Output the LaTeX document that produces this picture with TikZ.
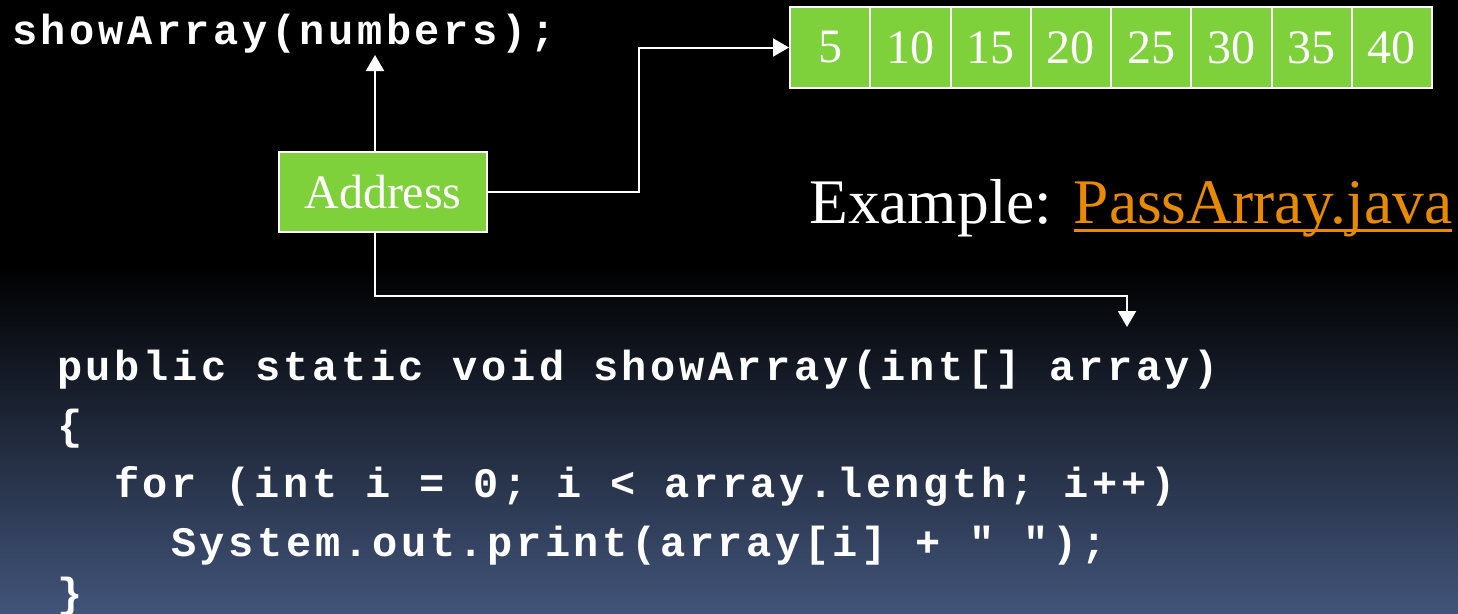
\documentclass[tikz,border=0pt]{standalone}
\usepackage{fontspec}
\setmainfont{Liberation Serif}
\newfontfamily\codefont[LetterSpace=8.5]{Liberation Mono}
\usetikzlibrary{arrows.meta}
\definecolor{cellgreen}{RGB}{127,209,59}
\definecolor{linkorange}{RGB}{232,138,0}
\definecolor{slateblue}{RGB}{65,84,121}
% underline that cuts through descenders, like a hyperlink
\newcommand\linkul[1]{\setbox0\hbox{#1}\rlap{\rule[-9pt]{\wd0}{3pt}}\box0}
\tikzset{
  codeline/.style={font=\codefont\bfseries\fontsize{42}{48}\selectfont, text=white, anchor=base west, inner sep=0pt},
  cell/.style={draw=white, line width=2pt, fill=cellgreen, minimum width=80.25pt, minimum height=81pt, inner sep=0pt, text=white, font=\fontsize{48}{56}\selectfont},
  addrbox/.style={draw=white, line width=2pt, fill=cellgreen, minimum width=208pt, minimum height=80pt, inner sep=0pt, text=white, font=\fontsize{48}{56}\selectfont},
  link/.style={draw=white, line width=2pt, -{Triangle[width=18pt,length=16pt]}}
}
\begin{document}
\begin{tikzpicture}[x=1pt,y=-1pt]
\useasboundingbox (0,0) rectangle (1458,613);
% background: black top fading into slate blue
\fill[black] (0,0) rectangle (1458,266);
\shade[top color=black, bottom color=slateblue] (0,265) rectangle (1458,613);

% method call
\node[codeline] (call) at (12,44) {showArray(numbers);};

% array contents
\foreach \v [count=\i] in {5,10,15,20,25,30,35,40}
  \node[cell] (c\i) at ({790+80.25*(\i-0.5)},47.5) {\v};

% reference held by the argument
\node[addrbox] (addr) at (383,192) {Address};

\node[anchor=base west, inner sep=0pt, text=white, font=\fontsize{63.5}{70}\selectfont] (example) at (809,223)
  {Example: {\color{linkorange}\linkul{PassArray.java}}};

% method definition
\node[codeline] (l1) at (57,380) {public static void showArray(int[] array)};
\node[codeline] (l2) at (57,439) {\{};
\node[codeline] (l3) at (114,497) {for (int i = 0; i < array.length; i++)};
\node[codeline] (l4) at (171,556) {System.out.print(array[i] + " ");};
\node[codeline] (l5) at (57,607) {\}};

% connectors
\coordinate (up) at (375,55);
\coordinate (param) at (1127,327);
\draw[link] (addr.north -| up) -- (up);
\draw[link] (addr.east) -- ++(151,0) |- (c1.west);
\draw[link] (addr.south -| up) -- ++(0,63) -| (param);
\end{tikzpicture}
\end{document}
